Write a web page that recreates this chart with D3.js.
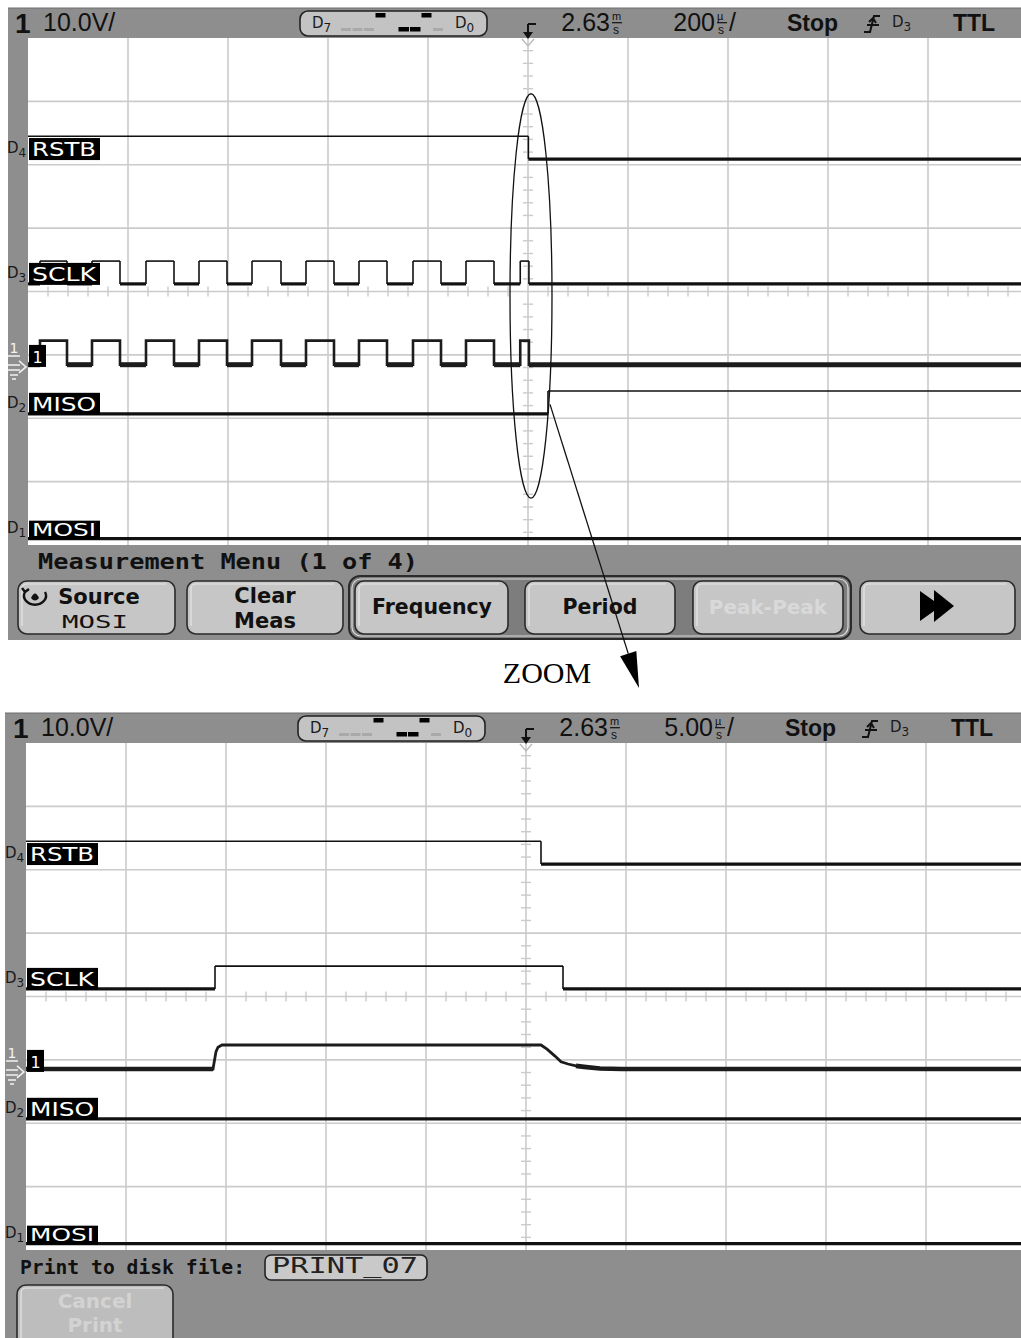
<!DOCTYPE html>
<html>
<head>
<meta charset="utf-8">
<style>body{margin:0;background:#fff}</style>
<script src="https://cdn.jsdelivr.net/npm/d3@7"></script>
</head>
<body>
<svg></svg>
<script>
'use strict';

const W = 1021, H = 1338;
const plotW = 1000, plotH = 507;
const grey = '#8e8e8e', btnFill = '#c6c6c6', gridC = '#cbcbcb', ink = '#111';

// channel names, digital ids, and the D7..D0 activity strip
const chNames = ['RSTB', 'SCLK', 'MISO', 'MOSI'];
const chIds = ['4', '3', '2', '1'];
const busStates = ['off', 'off', 'off', 'hi', '', 'lo', 'lo', 'hi', 'off'];

// upper capture, 200 us/div, times in us from trigger, level 0/1
const topTimeDiv = 200;
const topRstb = [[-1000, 1], [0.75, 0]];
const topSclk = [[-1000, 0], [-976, 1], [-922, 0], [-872, 1], [-816, 0], [-764, 1], [-708, 0],
  [-658, 1], [-602, 0], [-552, 1], [-494, 0], [-444, 1], [-388, 0], [-338, 1], [-282, 0],
  [-230, 1], [-174, 0], [-124, 1], [-68, 0], [-15.5, 1], [1.85, 0]];
const topMiso = [[-1000, 0], [40, 1]];
const topMosi = [[-1000, 0]];
// channel 1 (volts), same edges as the clock
const topCh1 = [[-1000, 0.35], [-976, 4.15], [-922, 0.35], [-872, 4.15], [-816, 0.35], [-764, 4.15],
  [-708, 0.35], [-658, 4.15], [-602, 0.35], [-552, 4.15], [-494, 0.35], [-444, 4.15], [-388, 0.35],
  [-338, 4.15], [-282, 0.35], [-230, 4.15], [-174, 0.35], [-124, 4.15], [-68, 0.35], [-15.5, 4.15],
  [1.85, 0.35]];

// lower capture (zoomed), 5 us/div
const botTimeDiv = 5;
const botRstb = [[-25, 1], [0.75, 0]];
const botSclk = [[-25, 0], [-15.55, 1], [1.85, 0]];
const botMiso = [[-25, 0]];
const botMosi = [[-25, 0]];
const botCh1 = [[-25, 0.45], [-15.65, 0.45], [-15.5, 3.2], [-15.4, 3.9], [-15.2, 4.25], [0.75, 4.25],
  [1.05, 3.6], [1.45, 2.5], [1.75, 1.6], [2.1, 1.25], [2.5, 0.95], [2.9, 0.8], [3.7, 0.55],
  [4.8, 0.45], [25, 0.45]];

const ch1Offset = 11.9;   // volts at screen centre, 10 V/div
const delayText = '2.63';
const topDivText = '200', botDivText = '5.00';
const topMenuTitle = 'Measurement Menu (1 of 4)';
const botMenuTitle = 'Print to disk file:';
const botFileName = 'PRINT_07';

// lane layout in divisions from top (low level), high is laneH above
const laneLow = [1.91, 3.88, 5.93, 7.90];
const laneH = 0.36;

const svg = d3.select('svg').attr('width', W).attr('height', H)
  .style('font-family', 'Liberation Sans, sans-serif');

function toSegs(edges, tEnd) {
  return edges.map((e, i) => ({
    t0: e[0], t1: i + 1 < edges.length ? edges[i + 1][0] : tEnd, v: e[1]
  }));
}

function dLabel(g, x, y, id, fs) {
  const t = g.append('text').attr('x', x).attr('y', y).attr('fill', '#1a1a1a')
    .attr('font-family', 'DejaVu Sans').attr('font-size', fs);
  t.append('tspan').text('D');
  t.append('tspan').attr('dy', 4).attr('font-size', fs * 0.8).text(id);
}

function stretched(g, x, y, s, fs, len, opts) {
  return g.append('text').attr('x', x).attr('y', y).attr('font-family', 'DejaVu Sans Mono')
    .attr('font-weight', opts && opts.bold ? 'bold' : 'normal').attr('font-size', fs)
    .attr('fill', (opts && opts.fill) || ink)
    .attr('textLength', len).attr('lengthAdjust', 'spacingAndGlyphs').text(s);
}

function button(g, x0, y0, w, h, fill) {
  g.append('rect').attr('x', x0).attr('y', y0).attr('width', w).attr('height', h)
    .attr('rx', 9).attr('fill', fill || btnFill).attr('stroke', '#2a2a2a').attr('stroke-width', 1.6);
  g.append('path')
    .attr('d', `M${x0 + 4},${y0 + h - 8} V${y0 + 8} Q${x0 + 4},${y0 + 3} ${x0 + 9},${y0 + 3} H${x0 + w - 9}`)
    .attr('fill', 'none').attr('stroke', '#e6e6e6').attr('stroke-width', 1.2);
}

// number with stacked unit letters (drawn as separate small texts that do not overlap)
function readout(g, xEnd, hy, num, top, slash) {
  const t = g.append('text').attr('x', xEnd).attr('y', hy + 23).attr('text-anchor', 'end')
    .attr('font-size', 25).attr('fill', ink).text(num);
  g.append('text').attr('x', xEnd + 2).attr('y', hy + 12).attr('font-size', 11).attr('fill', ink).text(top);
  g.append('line').attr('x1', xEnd + 2).attr('x2', xEnd + 12).attr('y1', hy + 14.7).attr('y2', hy + 14.7)
    .attr('stroke', ink).attr('stroke-width', 1.2);
  g.append('text').attr('x', xEnd + 3).attr('y', hy + 26).attr('font-size', 12).attr('fill', ink).text('s');
  if (slash) g.append('text').attr('x', xEnd + 14).attr('y', hy + 23).attr('font-size', 25).attr('fill', ink).text('/');
  return t;
}

function drawPanel(p) {
  const g = svg.append('g');
  const L = p.left, T = p.top, hy = T - 30;
  const x = d3.scaleLinear().domain([-5 * p.timeDiv, 5 * p.timeDiv]).range([L, L + plotW]);
  const yDiv = d3.scaleLinear().domain([0, 8]).range([T, T + plotH]);
  const yV = d3.scaleLinear().domain([ch1Offset - 40, ch1Offset + 40]).range([T + plotH, T]);

  // background
  g.append('rect').attr('x', p.greyX).attr('y', hy).attr('width', W - p.greyX)
    .attr('height', p.greyBottom - hy).attr('fill', grey);
  g.append('line').attr('x1', p.greyX).attr('x2', W).attr('y1', hy).attr('y2', hy)
    .attr('stroke', '#6c6c6c').attr('stroke-width', 1);
  g.append('rect').attr('x', L).attr('y', T).attr('width', W - L).attr('height', plotH)
    .attr('fill', '#fff');

  const clipId = 'clip' + p.name;
  svg.append('clipPath').attr('id', clipId).append('rect')
    .attr('x', L).attr('y', T).attr('width', W - L).attr('height', plotH);
  const pg = g.append('g').attr('clip-path', `url(#${clipId})`);

  // grid
  pg.selectAll(null).data(d3.range(-4, 5)).join('line')
    .attr('x1', d => x(d * p.timeDiv)).attr('x2', d => x(d * p.timeDiv))
    .attr('y1', T).attr('y2', T + plotH).attr('stroke', gridC).attr('stroke-width', 1.6);
  pg.selectAll(null).data(d3.range(1, 8)).join('line')
    .attr('x1', L).attr('x2', W).attr('y1', d => yDiv(d)).attr('y2', d => yDiv(d))
    .attr('stroke', gridC).attr('stroke-width', 1.6);
  pg.selectAll(null).data(d3.range(-25, 26).filter(k => k % 5 !== 0)).join('line')
    .attr('x1', k => x(k * p.timeDiv / 5)).attr('x2', k => x(k * p.timeDiv / 5))
    .attr('y1', yDiv(4) - 5).attr('y2', yDiv(4) + 5).attr('stroke', gridC).attr('stroke-width', 1.4);
  pg.selectAll(null).data(d3.range(-20, 21).filter(k => k % 5 !== 0)).join('line')
    .attr('x1', x(0) - 5).attr('x2', x(0) + 5)
    .attr('y1', k => yDiv(4 + k / 5)).attr('y2', k => yDiv(4 + k / 5))
    .attr('stroke', gridC).attr('stroke-width', 1.4);
  pg.append('path')
    .attr('d', `M${x(0) - 6},${T + 1} L${x(0)},${T + 8} L${x(0) + 6},${T + 1}`)
    .attr('fill', 'none').attr('stroke', '#bbb').attr('stroke-width', 1.4);

  // digital channels
  p.digital.forEach((edges, ci) => {
    const lo = yDiv(laneLow[ci]), hi = yDiv(laneLow[ci] - laneH);
    pg.selectAll(null).data(toSegs(edges, x.domain()[1])).join('line')
      .attr('x1', d => x(d.t0)).attr('x2', d => x(d.t1))
      .attr('y1', d => d.v ? hi : lo).attr('y2', d => d.v ? hi : lo)
      .attr('stroke', ink).attr('stroke-width', d => d.v ? 1.6 : 3.2);
    pg.selectAll(null).data(edges.slice(1)).join('line')
      .attr('x1', d => x(d[0])).attr('x2', d => x(d[0]))
      .attr('y1', hi).attr('y2', lo).attr('stroke', ink).attr('stroke-width', 1.6);
  });

  // analog channel 1
  if (p.ch1Step) {
    const pts = p.ch1Step.concat([[x.domain()[1], p.ch1Step[p.ch1Step.length - 1][1]]]);
    pg.append('path').datum(pts)
      .attr('d', d3.line().x(d => x(d[0])).y(d => yV(d[1])).curve(d3.curveStepAfter))
      .attr('fill', 'none').attr('stroke', '#1c1c1c').attr('stroke-width', 2.6);
    pg.selectAll(null).data(toSegs(p.ch1Step, x.domain()[1]).filter(d => d.v < 1)).join('line')
      .attr('x1', d => x(d.t0)).attr('x2', d => x(d.t1))
      .attr('y1', d => yV(d.v)).attr('y2', d => yV(d.v))
      .attr('stroke', '#1c1c1c').attr('stroke-width', 5);
  } else {
    pg.append('path').datum(p.ch1Pts)
      .attr('d', d3.line().x(d => x(d[0])).y(d => yV(d[1])))
      .attr('fill', 'none').attr('stroke', '#1c1c1c').attr('stroke-width', 2.8);
    pg.append('path').datum(p.ch1Pts)
      .attr('d', d3.line().defined(d => d[1] < 1).x(d => x(d[0])).y(d => yV(d[1])))
      .attr('fill', 'none').attr('stroke', '#1c1c1c').attr('stroke-width', 4.6);
  }

  // channel labels
  chNames.forEach((name, ci) => {
    const lo = yDiv(laneLow[ci]);
    const bh = ci === 3 ? 18 : 21;
    g.append('rect').attr('x', L + 1).attr('y', lo - bh).attr('width', 71).attr('height', bh + 1)
      .attr('fill', '#000');
    g.append('text').attr('x', L + 4).attr('y', lo - 3).attr('fill', '#fff')
      .attr('font-family', 'DejaVu Sans').attr('font-size', ci === 3 ? 17 : 19)
      .attr('textLength', 64).attr('lengthAdjust', 'spacingAndGlyphs').text(name);
    dLabel(g, L - 21, lo - 6, chIds[ci], 15);
  });
  const gnd = yV(0);
  g.append('rect').attr('x', L + 1).attr('y', gnd - 22).attr('width', 17).attr('height', 22)
    .attr('fill', '#000');
  g.append('text').attr('x', L + 9.5).attr('y', gnd - 4).attr('text-anchor', 'middle')
    .attr('fill', '#fff').attr('font-size', 16).attr('font-family', 'DejaVu Sans').text('1');
  g.append('text').attr('x', L - 14).attr('y', gnd - 14).attr('text-anchor', 'middle')
    .attr('fill', '#f2f2f2').attr('font-size', 14).attr('font-family', 'DejaVu Sans').text('1');
  g.append('path')
    .attr('d', `M${L - 20},${gnd - 11} H${L - 8} M${L - 20},${gnd - 2} H${L - 8} M${L - 20},${gnd + 3} H${L - 8}` +
      ` M${L - 9},${gnd - 6} L${L - 2},${gnd} L${L - 9},${gnd + 6} M${L - 18},${gnd + 8} H${L - 10} M${L - 16},${gnd + 12} H${L - 12}`)
    .attr('fill', 'none').attr('stroke', '#f2f2f2').attr('stroke-width', 1.5);

  // header readout
  g.append('text').attr('x', L - 13).attr('y', hy + 25).attr('font-size', 28)
    .attr('font-weight', 'bold').attr('fill', ink).text('1');
  g.append('text').attr('x', L + 15).attr('y', hy + 23).attr('font-size', 25)
    .attr('fill', ink).text('10.0V/');

  g.append('rect').attr('x', L + 272).attr('y', hy + 3).attr('width', 187).attr('height', 25)
    .attr('rx', 8).attr('fill', '#c3c3c3').attr('stroke', '#222').attr('stroke-width', 1.6);
  dLabel(g, L + 284, hy + 20, '7', 15);
  dLabel(g, L + 427, hy + 20, '0', 15);
  busStates.forEach((s, i) => {
    const bx = L + 313 + i * 11.5;
    if (s === 'hi') g.append('rect').attr('x', bx).attr('y', hy + 5).attr('width', 10).attr('height', 4.5).attr('fill', '#000');
    if (s === 'lo') g.append('rect').attr('x', bx).attr('y', hy + 19).attr('width', 10.5).attr('height', 4.5).attr('fill', '#000');
    if (s === 'off') g.append('rect').attr('x', bx).attr('y', hy + 20).attr('width', 10).attr('height', 3).attr('fill', '#a9a9a9');
  });

  const cx = x(0);
  g.append('path').attr('d', `M${cx},${hy + 16} H${cx + 8} M${cx},${hy + 16} V${hy + 26}`)
    .attr('fill', 'none').attr('stroke', ink).attr('stroke-width', 2);
  g.append('path').attr('d', `M${cx - 5},${hy + 24} L${cx + 5},${hy + 24} L${cx},${hy + 31} Z`).attr('fill', ink);

  readout(g, L + 582, hy, delayText, 'm', false);
  readout(g, L + 687, hy, p.divText, 'µ', true);

  g.append('text').attr('x', L + 759).attr('y', hy + 23).attr('font-size', 23)
    .attr('font-weight', 'bold').attr('fill', ink).text('Stop');
  g.append('path')
    .attr('d', `M${L + 836},${hy + 24} H${L + 842} L${L + 846},${hy + 8} H${L + 852} M${L + 839},${hy + 17} H${L + 851} M${L + 841},${hy + 14} L${L + 845},${hy + 10} L${L + 848},${hy + 15}`)
    .attr('fill', 'none').attr('stroke', ink).attr('stroke-width', 2);
  dLabel(g, L + 864, hy + 19, '3', 15);
  g.append('text').attr('x', L + 925).attr('y', hy + 23).attr('font-size', 23)
    .attr('font-weight', 'bold').attr('fill', ink).text('TTL');

  return { g, x, yDiv, yV };
}

// ---- upper screen ----
const upper = drawPanel({
  name: 'top', left: 28, top: 38, greyX: 8, greyBottom: 640, timeDiv: topTimeDiv,
  divText: topDivText, digital: [topRstb, topSclk, topMiso, topMosi], ch1Step: topCh1
});

const mg = upper.g;
stretched(mg, 38, 569, topMenuTitle, 21, 380, { bold: true });

mg.append('rect').attr('x', 349).attr('y', 576).attr('width', 502).attr('height', 63)
  .attr('rx', 11).attr('fill', '#7d7d7d').attr('stroke', '#2b2b2b').attr('stroke-width', 2);
mg.append('rect').attr('x', 352).attr('y', 579).attr('width', 496).attr('height', 57)
  .attr('rx', 9).attr('fill', 'none').attr('stroke', '#dcdcdc').attr('stroke-width', 1.2);

const btnX = [18, 187, 355, 525, 693, 860];
const btnW = [157, 156, 153, 150, 150, 155];
btnX.forEach((bx, i) => button(mg, bx, 581, btnW[i], 53));

const bold = (g, x, y, s, fs, fill) => g.append('text').attr('x', x).attr('y', y)
  .attr('text-anchor', 'middle').attr('font-family', 'DejaVu Sans').attr('font-weight', 'bold')
  .attr('font-size', fs).attr('fill', fill || ink).text(s);

mg.append('path')
  .attr('d', 'M25,592 A11,9 0 1 0 45,592 M25,592 l-3,-4 M25,592 l4,-3')
  .attr('fill', 'none').attr('stroke', ink).attr('stroke-width', 2.4);
mg.append('path').attr('d', 'M31,598 Q35,589 39,598 Q35,603 31,598 Z').attr('fill', ink);
bold(mg, 99, 604, 'Source', 21);
stretched(mg, 62, 628, 'MOSI', 18, 66);
bold(mg, 265, 603, 'Clear', 21);
bold(mg, 265, 628, 'Meas', 21);
bold(mg, 432, 614, 'Frequency', 20.5);
bold(mg, 600, 614, 'Period', 20.5);
bold(mg, 768, 614, 'Peak-Peak', 20, '#d9d9d9');
mg.append('path').attr('d', 'M920,591 L934,601 L934,590 L954,606 L934,622 L934,611 L920,621 Z').attr('fill', '#000');

// ---- lower screen ----
const lower = drawPanel({
  name: 'bot', left: 26, top: 743, greyX: 5, greyBottom: H, timeDiv: botTimeDiv,
  divText: botDivText, digital: [botRstb, botSclk, botMiso, botMosi], ch1Pts: botCh1
});
const bg = lower.g;
stretched(bg, 20, 1274, botMenuTitle, 20, 225, { bold: true });
bg.append('rect').attr('x', 265).attr('y', 1255).attr('width', 162).attr('height', 25)
  .attr('rx', 6).attr('fill', '#c9c9c9').attr('stroke', '#222').attr('stroke-width', 1.6);
stretched(bg, 272, 1273, botFileName, 21, 146, { fill: '#222' });
button(bg, 17, 1285, 156, 66, '#bdbdbd');
bold(bg, 95, 1308, 'Cancel', 20, '#d3d3d3');
bold(bg, 95, 1332, 'Print', 20, '#d3d3d3');

// ---- zoom annotation ----
const ann = svg.append('g');
ann.append('ellipse').attr('cx', upper.x(6)).attr('cy', upper.yDiv(4.07))
  .attr('rx', 21).attr('ry', upper.yDiv(3.19) - upper.yDiv(0))
  .attr('fill', 'none').attr('stroke', ink).attr('stroke-width', 1.3);
const a0 = [upper.x(40) + 2, upper.yDiv(laneLow[2] - laneH / 2) + 2];
const tip = [639, 688];
const ux = tip[0] - a0[0], uy = tip[1] - a0[1], ul = Math.hypot(ux, uy);
const dx = ux / ul, dy = uy / ul, hl = 36, hw = 8.5;
const bcx = tip[0] - dx * hl, bcy = tip[1] - dy * hl;
ann.append('line').attr('x1', a0[0]).attr('y1', a0[1]).attr('x2', bcx).attr('y2', bcy)
  .attr('stroke', ink).attr('stroke-width', 1.3);
ann.append('path')
  .attr('d', `M${tip[0]},${tip[1]} L${bcx - dy * hw},${bcy + dx * hw} L${bcx + dy * hw},${bcy - dx * hw} Z`)
  .attr('fill', '#000');
ann.append('text').attr('x', 547).attr('y', 683).attr('text-anchor', 'middle')
  .attr('font-family', 'Liberation Serif').attr('font-size', 30).attr('fill', '#000').text('ZOOM');
</script>
</body>
</html>
